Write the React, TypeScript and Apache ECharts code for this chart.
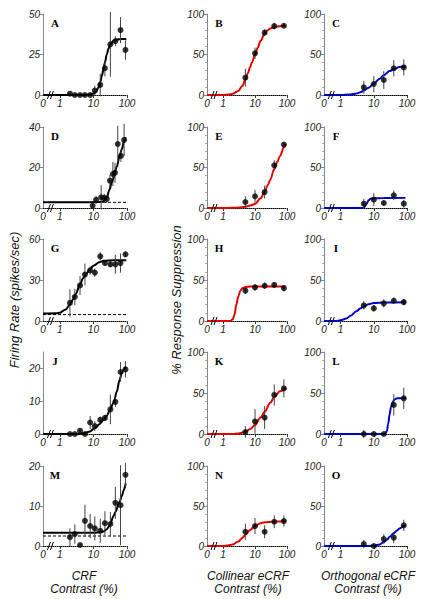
import React, { useEffect, useRef } from "react";
import * as echarts from "echarts";

// ---------- contrast levels (%) ----------
const crfContrast = [2, 2.8, 4, 5.6, 8, 11, 16, 22, 32, 45, 64, 90];
const dContrast = [9.5, 12, 17, 21, 25, 31, 38, 44, 53, 66, 82];
const ecrfContrast = [5, 10, 20, 40, 80];

// ---------- CRF panels (firing rate, spikes/sec) ----------
const aRate = [0.8, 0, 0, 0, 0, 2.7, 6.2, 16.5, 31.3, 33.3, 40.1, 27.8];
const aSem = [0.8, 0.5, 0.5, 0.5, 0.5, 3, 7, 5, 20, 3, 8, 6];
const aFitC = [0.316, 1, 5, 8, 10, 12, 14, 16, 18, 20, 22, 25, 28, 32, 40, 50, 70, 95];
const aFitR = [0, 0, 0, 0.3, 0.8, 2, 4.5, 8, 12, 16, 20, 25, 28.5, 31.3, 33.5, 34.3, 34.5, 34.5];

const dRate = [1.1, 4, 5.3, 5, 4.5, 13.5, 16.8, 17.4, 31.6, 25.7, 33.6];
const dSem = [1, 2, 6, 2, 2, 3, 6, 5, 9, 3, 8];
const dFitC = [0.316, 10, 15, 18, 20, 25, 30, 35, 40, 50, 60, 70, 80, 90];
const dFitR = [2.9, 2.9, 3, 3.1, 3.3, 5, 9, 12.5, 15, 20.5, 25.5, 29, 32.5, 35];
const dSpont = 2.8;

const gRate = [13.2, 17.6, 26, 34, 37, 35.4, 47.3, 42.4, 41.5, 41.5, 42.4, 48.8];
const gSem = [10, 6, 7, 8, 3, 3, 3, 2, 2, 7, 7, 2];
const gFitC = [0.316, 0.8, 1, 1.5, 2, 2.5, 3, 4, 5, 6, 8, 10, 15, 20, 40, 95];
const gFitR = [5.5, 5.7, 6, 8.5, 12, 16, 20, 27, 31.5, 34.5, 38, 40.5, 43, 44, 44.5, 44.5];
const gSpont = 4.7;

const jRate = [0, 0, 1, 0, 3.5, 2.4, 4.3, 4.9, 7.5, 9.8, 18.9, 19.7];
const jSem = [0.3, 0.3, 0.5, 0.3, 2, 1.5, 1, 1, 4.5, 1.5, 3, 2.5];
const jFitC = [0.316, 3, 5, 8, 10, 12, 15, 20, 25, 30, 40, 50, 60, 70, 80, 92];
const jFitR = [0, 0, 0.2, 0.8, 1.5, 2.1, 3, 4.3, 5.6, 7, 9.5, 13, 16.5, 18.5, 19.7, 20.5];

const mRate = [2.2, 3, 0.25, 6.3, 5, 4.4, 3.8, 5.7, 5.5, 10.8, 10.2, 17.8];
const mSem = [2.2, 2.4, 0.3, 4, 3, 3, 3, 3, 3, 4, 10, 3];
const mFitC = [0.316, 10, 20, 25, 30, 40, 45, 60, 70, 80, 92];
const mFitR = [3.3, 3.3, 3.6, 4.2, 5, 7.5, 8.5, 11, 12.5, 14, 15.7];
const mSpont = 2.5;

// ---------- collinear eCRF panels (% response suppression) ----------
const bSupp = [21.4, 51.5, 77, 85, 85.5];
const bSem = [11, 7, 4, 4, 2];
const bFitC = [0.316, 1, 1.5, 2, 3, 4, 5, 6, 7, 8, 10, 12, 15, 20, 25, 30, 40, 60, 90];
const bFitS = [0, 0, 0.5, 1.5, 5, 11, 19, 27, 34, 40, 50, 58, 67, 76, 80, 82, 84, 85, 85.5];

const eSupp = [7.4, 14.4, 19.7, 52.7, 78.3];
const eSem = [7, 8, 8, 6.5, 2];
const eFitC = [0.316, 1, 2, 3, 5, 7, 10, 15, 20, 25, 30, 40, 50, 60, 80, 90];
const eFitS = [0, 0, 0.2, 0.6, 1.5, 3, 5, 12, 20, 28, 35, 48, 57, 64, 75, 79];

const hSupp = [37, 41, 43, 44, 40];
const hSem = [4, 4, 4, 3, 4];
const hFitC = [0.316, 1, 1.7, 2, 2.3, 2.6, 3, 3.5, 4, 5, 7, 90];
const hFitS = [0, 0, 0, 2, 8, 20, 30, 37, 40, 41.5, 42, 42];

const kSupp = [2.4, 15.3, 20, 47.6, 55.6];
const kSem = [7, 15, 14, 13, 11];
const kFitC = [0.316, 2, 3, 5, 7, 10, 15, 20, 30, 40, 60, 90];
const kFitS = [0, 0, 0.5, 2.5, 6, 11, 20, 27, 38, 45, 52, 56];

const nSupp = [17.8, 24.9, 17.8, 30.3, 31.1];
const nSem = [10, 10, 8, 8, 7];
const nFitC = [0.316, 1, 1.5, 2, 3, 4, 5, 7, 10, 15, 20, 40, 90];
const nFitS = [0, 0, 0.8, 2, 5.5, 10, 14, 20, 25, 28.5, 29.8, 30.5, 30.8];

// ---------- orthogonal eCRF panels (% response suppression) ----------
const cSupp = [9.5, 13.6, 18.5, 33, 34];
const cSem = [8, 10, 11, 10, 10];
const cFitC = [0.316, 1, 2, 3, 4, 5, 7, 10, 15, 20, 30, 40, 60, 90];
const cFitS = [0, 0, 0.5, 1.8, 3.5, 5.5, 9, 14, 20, 24.5, 29.5, 32, 34.5, 35.5];

const fSupp = [5.3, 10.3, 6.2, 15.7, 5.3];
const fSem = [6, 8, 3, 6, 5];
const fFitC = [0.316, 4, 5, 6, 7, 8, 10, 20, 90];
const fFitS = [0, 0, 0.3, 5, 9.5, 11.5, 12, 12.3, 12.5];

const iSupp = [19, 15.5, 21.5, 24.7, 23.1];
const iSem = [5, 4, 5, 4, 4];
const iFitC = [0.316, 0.7, 1, 1.5, 2, 3, 4, 5, 7, 10, 20, 90];
const iFitS = [0, 0, 0.8, 3, 6.5, 12, 15.5, 18, 20.5, 21.8, 22.5, 22.8];

const lSupp = [0, 0, 0, 35.5, 43.5];
const lSem = [5, 1, 1, 13, 13];
const lFitC = [0.316, 20, 22, 25, 27, 30, 33, 37, 42, 50, 90];
const lFitS = [0, 0, 0.5, 4, 12, 24, 33, 39, 42, 43.5, 44];

const oSupp = [2.5, 0, 8.7, 10.4, 25.8];
const oSem = [5, 1, 6, 7, 7];
const oFitC = [0.316, 7, 10, 15, 20, 25, 30, 40, 50, 60, 80, 90];
const oFitS = [0, 0, 0.5, 2, 5, 8, 11.5, 16, 19.5, 22, 25, 26];

// ---------- axis tick labels ----------
const xTickLabels = ["0", "1", "10", "100"];
const xTickContrast = [0.316, 1, 10, 100];
const supLabels = [0, 50, 100];

type Panel = {
  id: string; col: number; row: number;
  x: number[]; y: number[]; err: number[];
  fitX: number[]; fitY: number[];
  yMax: number; yInterval: number; yLabels: number[];
  spont?: number;
};

const panels: Panel[] = [
  { id: "A", col: 0, row: 0, x: crfContrast, y: aRate, err: aSem, fitX: aFitC, fitY: aFitR, yMax: 50, yInterval: 25, yLabels: [0, 25, 50] },
  { id: "B", col: 1, row: 0, x: ecrfContrast, y: bSupp, err: bSem, fitX: bFitC, fitY: bFitS, yMax: 100, yInterval: 50, yLabels: supLabels },
  { id: "C", col: 2, row: 0, x: ecrfContrast, y: cSupp, err: cSem, fitX: cFitC, fitY: cFitS, yMax: 100, yInterval: 50, yLabels: supLabels },
  { id: "D", col: 0, row: 1, x: dContrast, y: dRate, err: dSem, fitX: dFitC, fitY: dFitR, yMax: 40, yInterval: 20, yLabels: [0, 20, 40], spont: dSpont },
  { id: "E", col: 1, row: 1, x: ecrfContrast, y: eSupp, err: eSem, fitX: eFitC, fitY: eFitS, yMax: 100, yInterval: 50, yLabels: supLabels },
  { id: "F", col: 2, row: 1, x: ecrfContrast, y: fSupp, err: fSem, fitX: fFitC, fitY: fFitS, yMax: 100, yInterval: 50, yLabels: supLabels },
  { id: "G", col: 0, row: 2, x: crfContrast, y: gRate, err: gSem, fitX: gFitC, fitY: gFitR, yMax: 60, yInterval: 30, yLabels: [0, 30, 60], spont: gSpont },
  { id: "H", col: 1, row: 2, x: ecrfContrast, y: hSupp, err: hSem, fitX: hFitC, fitY: hFitS, yMax: 100, yInterval: 50, yLabels: supLabels },
  { id: "I", col: 2, row: 2, x: ecrfContrast, y: iSupp, err: iSem, fitX: iFitC, fitY: iFitS, yMax: 100, yInterval: 50, yLabels: supLabels },
  { id: "J", col: 0, row: 3, x: crfContrast, y: jRate, err: jSem, fitX: jFitC, fitY: jFitR, yMax: 25, yInterval: 5, yLabels: [0, 10, 20] },
  { id: "K", col: 1, row: 3, x: ecrfContrast, y: kSupp, err: kSem, fitX: kFitC, fitY: kFitS, yMax: 100, yInterval: 50, yLabels: supLabels },
  { id: "L", col: 2, row: 3, x: ecrfContrast, y: lSupp, err: lSem, fitX: lFitC, fitY: lFitS, yMax: 100, yInterval: 50, yLabels: supLabels },
  { id: "M", col: 0, row: 4, x: crfContrast, y: mRate, err: mSem, fitX: mFitC, fitY: mFitR, yMax: 20, yInterval: 10, yLabels: [0, 10, 20], spont: mSpont },
  { id: "N", col: 1, row: 4, x: ecrfContrast, y: nSupp, err: nSem, fitX: nFitC, fitY: nFitS, yMax: 100, yInterval: 50, yLabels: supLabels },
  { id: "O", col: 2, row: 4, x: ecrfContrast, y: oSupp, err: oSem, fitX: oFitC, fitY: oFitS, yMax: 100, yInterval: 50, yLabels: supLabels },
];

// ---------- layout / style ----------
const colLeft = [43, 207, 324];
const colWidth = [84, 80, 83];
const rowTop = [14, 127, 239, 352, 466];
const rowHeight = [81, 81, 82, 82, 80];
const curveColor = ["#000000", "#e00000", "#0000c8"];
const FONT = '"Liberation Sans", Arial, Helvetica, sans-serif';
const SERIF = '"Liberation Serif", "Times New Roman", serif';

const lg = (v: number) => Math.log10(v);
const X_MIN = lg(xTickContrast[0]);
const X_MAX = lg(xTickContrast[xTickContrast.length - 1]);

function buildOption() {
  const grid: any[] = [];
  const xAxis: any[] = [];
  const yAxis: any[] = [];
  const series: any[] = [];
  const graphic: any[] = [];

  panels.forEach((p, i) => {
    grid.push({ left: colLeft[p.col], top: rowTop[p.row], width: colWidth[p.col], height: rowHeight[p.row] });
    xAxis.push({
      type: "value", gridIndex: i, min: X_MIN, max: X_MAX,
      axisLine: { show: true, onZero: false, lineStyle: { color: "#000", width: 1, type: [1, 1] } },
      axisTick: { show: true, customValues: [0, 1, 2], length: 3, lineStyle: { color: "#333" } },
      axisLabel: {
        customValues: xTickContrast.map(lg),
        formatter: (v: number) => {
          let best = 0;
          xTickContrast.forEach((c, k) => { if (Math.abs(lg(c) - v) < Math.abs(lg(xTickContrast[best]) - v)) best = k; });
          return xTickLabels[best];
        },
        showMinLabel: true, showMaxLabel: true,
        margin: 3, fontSize: 10, fontStyle: "italic", fontFamily: FONT, color: "#222",
      },
      splitLine: { show: false },
    });
    yAxis.push({
      type: "value", gridIndex: i, min: 0, max: p.yMax, interval: p.yInterval,
      axisLine: { show: true, onZero: false, lineStyle: { color: "#888", width: 1 } },
      axisTick: { show: true, customValues: p.yLabels, length: 3, lineStyle: { color: "#888" } },
      minorTick: p.col > 0 ? { show: true, splitNumber: 5, length: 2, lineStyle: { color: "#aaa" } } : { show: false },
      axisLabel: {
        customValues: p.yLabels, margin: 3, fontSize: 10, fontStyle: "italic", fontFamily: FONT, color: "#222",
      },
      splitLine: { show: false },
    });

    if (p.spont !== undefined) {
      series.push({
        type: "line", xAxisIndex: i, yAxisIndex: i, z: 1, silent: true, showSymbol: false,
        data: [[X_MIN, p.spont], [X_MAX, p.spont]],
        lineStyle: { color: "#000", width: 1, type: [3, 2] },
      });
    }
    series.push({
      type: "line", xAxisIndex: i, yAxisIndex: i, z: 2, silent: true, showSymbol: false,
      smooth: 0.35, smoothMonotone: "x",
      data: p.fitX.map((c, k) => [Math.max(lg(c), X_MIN), p.fitY[k]]),
      lineStyle: { color: curveColor[p.col], width: 2 },
    });
    series.push({
      type: "custom", xAxisIndex: i, yAxisIndex: i, z: 3, silent: true,
      encode: { x: 0, y: 1 },
      data: p.x.map((c, k) => [lg(c), p.y[k], p.err[k]]),
      renderItem: (_params: any, api: any) => {
        const xv = api.value(0), yv = api.value(1), e = api.value(2);
        const a = api.coord([xv, yv - e]);
        const b = api.coord([xv, yv + e]);
        return { type: "line", shape: { x1: a[0], y1: a[1], x2: b[0], y2: b[1] }, style: { stroke: "#444", lineWidth: 1 } };
      },
    });
    series.push({
      type: "scatter", xAxisIndex: i, yAxisIndex: i, z: 4, silent: true,
      symbol: "circle", symbolSize: 6,
      data: p.x.map((c, k) => [lg(c), p.y[k]]),
      itemStyle: { color: "#000" },
    });
    series.push({
      type: "custom", xAxisIndex: i, yAxisIndex: i, z: 5, silent: true,
      encode: { x: 0, y: 1 },
      data: [[-0.25, 0]],
      renderItem: (_params: any, api: any) => {
        const c = api.coord([api.value(0), api.value(1)]);
        return {
          type: "group",
          children: [
            { type: "line", shape: { x1: c[0] - 4, y1: c[1] + 4, x2: c[0] - 1, y2: c[1] - 4 }, style: { stroke: "#000", lineWidth: 1 } },
            { type: "line", shape: { x1: c[0] - 1, y1: c[1] + 4, x2: c[0] + 2, y2: c[1] - 4 }, style: { stroke: "#000", lineWidth: 1 } },
          ],
        };
      },
    });

    graphic.push({
      type: "text", x: colLeft[p.col] + 12, y: rowTop[p.row] + 9,
      style: { text: p.id, fontFamily: SERIF, fontWeight: "bold", fontSize: 11, fill: "#000", textAlign: "center", textVerticalAlign: "middle" },
    });
  });

  graphic.push({
    type: "text", x: 14, y: 300, rotation: Math.PI / 2,
    style: { text: "Firing Rate (spikes/sec)", fontFamily: FONT, fontStyle: "italic", fontSize: 13, fill: "#111", textAlign: "center", textVerticalAlign: "middle" },
  });
  graphic.push({
    type: "text", x: 176, y: 300, rotation: Math.PI / 2,
    style: { text: "% Response Suppression", fontFamily: FONT, fontStyle: "italic", fontSize: 13, fill: "#111", textAlign: "center", textVerticalAlign: "middle" },
  });
  const bottomTitles = ["CRF\nContrast (%)", "Collinear eCRF\nContrast (%)", "Orthogonal eCRF\nContrast (%)"];
  const bottomX = [84, 248, 368];
  bottomTitles.forEach((t, k) => {
    graphic.push({
      type: "text", x: bottomX[k], y: 582,
      style: { text: t, fontFamily: FONT, fontStyle: "italic", fontSize: 12, lineHeight: 13, fill: "#111", textAlign: "center", textVerticalAlign: "middle" },
    });
  });

  return { animation: false, backgroundColor: "#fff", grid, xAxis, yAxis, series, graphic };
}

export default function App() {
  const ref = useRef<HTMLDivElement>(null);
  useEffect(() => {
    if (!ref.current) return;
    const chart = echarts.init(ref.current, undefined, { renderer: "svg" });
    chart.setOption(buildOption() as any);
    return () => chart.dispose();
  }, []);
  return <div ref={ref} style={{ position: "absolute", left: 0, top: 0, width: 421, height: 599 }} />;
}
